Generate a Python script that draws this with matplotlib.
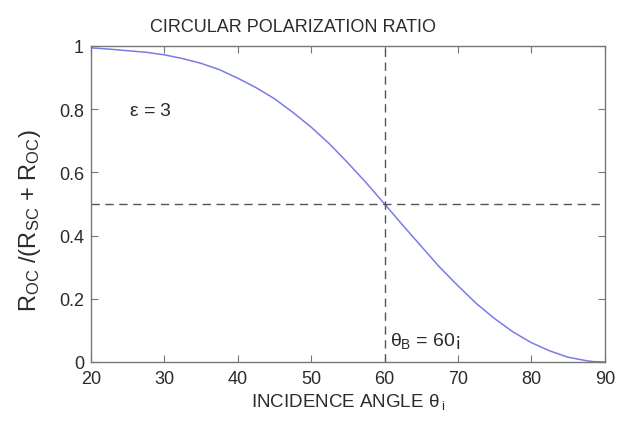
import matplotlib
matplotlib.use("Agg")
import matplotlib.pyplot as plt

# incidence angle (deg) and OC / (SC + OC) ratio for a dielectric with eps = 3
theta_deg = [20, 22.5, 25, 27.5, 30, 32.5, 35, 37.5, 40, 42.5, 45, 47.5, 50,
             52.5, 55, 57.5, 60, 62.5, 65, 67.5, 70, 72.5, 75, 77.5, 80,
             82.5, 85, 87.5, 88.5, 90]
ratio = [0.994, 0.99, 0.985, 0.98, 0.972, 0.96, 0.945, 0.925, 0.898, 0.868,
         0.833, 0.79, 0.743, 0.69, 0.63, 0.567, 0.50, 0.432, 0.366, 0.30,
         0.241, 0.185, 0.137, 0.095, 0.061, 0.035, 0.015, 0.004, 0.001, 0.0]

brewster = 60
half = 0.5
xticks = [20, 30, 40, 50, 60, 70, 80, 90]
yticks = [0, 0.2, 0.4, 0.6, 0.8, 1]

plt.rcParams['font.family'] = ['Liberation Sans', 'DejaVu Sans']
plt.rcParams['mathtext.fontset'] = 'custom'
plt.rcParams['mathtext.rm'] = 'Liberation Sans'
plt.rcParams['mathtext.it'] = 'Liberation Sans'

txt = '#2b2b2b'

fig = plt.figure(figsize=(6.19, 4.27), dpi=100)
ax = fig.add_axes([0.147, 0.150, 0.830, 0.740])

ax.plot(theta_deg, ratio, color='#7b7be6', linewidth=1.1)
ax.plot([brewster, brewster], [0, 1], color='#555555', linestyle=(0, (6, 4)), linewidth=1)
ax.plot([20, 90], [half, half], color='#555555', linestyle=(0, (6, 4)), linewidth=1)

ax.set_xlim(20, 90)
ax.set_ylim(0, 1)
ax.set_xticks(xticks)
ax.set_xticklabels([str(t) for t in xticks])
ax.set_yticks(yticks)
ax.set_yticklabels(['0', '0.2', '0.4', '0.6', '0.8', '1'])
ax.tick_params(direction='in', top=True, right=True, length=5, width=0.8,
               color='#777777', labelsize=13, labelcolor=txt)
ax.tick_params(axis='x', pad=6)
ax.tick_params(axis='y', pad=5)
for s in ax.spines.values():
    s.set_color('#777777')
    s.set_linewidth(1)

ax.text(25.2, 0.795, r'$\epsilon$ = 3', fontsize=14, color=txt,
        va='center', ha='left')
ax.text(60.7, 0.07, r'$\theta_{B}$ = 60¡', fontsize=14, color=txt,
        va='center', ha='left')

ax.set_title('CIRCULAR POLARIZATION RATIO', fontsize=13, color=txt, pad=11, x=0.393)
ax.set_xlabel(r'INCIDENCE ANGLE $\theta_{\;i}$', fontsize=13.5, color=txt, labelpad=3)
ax.set_ylabel(r'R$_{OC}$ /(R$_{SC}$ + R$_{OC}$)', fontsize=17, color=txt)
ax.yaxis.set_label_coords(-0.093, 0.45)

fig.savefig('out.png', dpi=100)
